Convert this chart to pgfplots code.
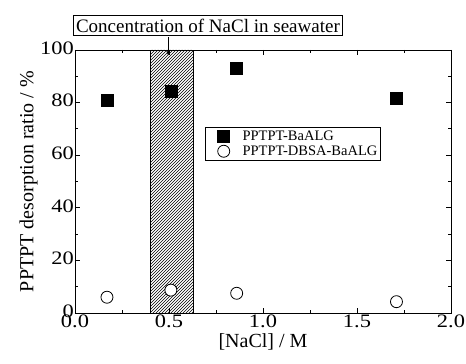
\documentclass[border=0pt]{standalone}
\usepackage{fontspec}
\setmainfont{Liberation Serif}
\usepackage{graphicx}
\usepackage{pgfplots}
\pgfplotsset{compat=1.18}
\usetikzlibrary{patterns,arrows.meta}
\begin{document}
\begin{tikzpicture}
\begin{axis}[
  name=ax,
  scale only axis, width=376pt, height=263pt,
  xmin=0, xmax=2, ymin=0, ymax=100,
  xtick={0,0.5,1,1.5,2}, minor xtick={0.25,0.75,1.25,1.75},
  ytick={0,20,40,60,80,100}, minor ytick={10,30,50,70,90},
  tick align=inside, major tick length=5pt, minor tick length=3pt,
  xticklabel={\scalebox{1.18}[1]{\pgfmathprintnumber[assume math mode=true,fixed,fixed zerofill,precision=1]{\tick}}},
  yticklabel={\scalebox{1.18}[1]{\pgfmathprintnumber[assume math mode=true]{\tick}}},
  ticklabel style={font=\fontsize{19}{19}\selectfont},
  yticklabel style={inner xsep=1pt, inner ysep=0pt, yshift=2pt},
  xticklabel style={inner ysep=2pt},
  xlabel={[NaCl] / M}, ylabel={PPTPT desorption ratio / \%},
  label style={font=\fontsize{20}{20}\selectfont},
  xlabel style={yshift=0pt},
  ylabel style={yshift=-2pt},
  axis line style={line width=0.9pt},
  every tick/.style={line width=0.8pt, black},
  clip=false,
  legend cell align=left,
  legend image code/.code={\node[inner sep=0pt, minimum size=0pt, draw=none] at (1.2cm,0cm) {};
    \node[inner sep=0pt, minimum size=0pt, draw=none] at (0cm,0cm) {};
    \draw[#1] plot coordinates {(0.62cm,0cm)};},
  legend style={at={(0.346,0.708)}, anchor=north west, draw=black, line width=0.6pt,
    font=\fontsize{14.5}{15}\selectfont, inner xsep=1pt, inner ysep=1.5pt, row sep=0pt},
]
\addplot[draw=black, line width=0.7pt, pattern=north east lines, forget plot]
  coordinates {(0.4,0) (0.4,100) (0.63,100) (0.63,0)} \closedcycle;
\addplot[only marks, mark=square*, mark size=6pt, mark options={fill=black, draw=black}]
  coordinates {(0.17,81) (0.51,84.5) (0.86,93) (1.71,81.6)};
\addlegendentry{PPTPT-BaALG}
\addplot[only marks, mark=*, mark size=6pt, mark options={fill=white, draw=black, line width=0.8pt}]
  coordinates {(0.17,6.0) (0.51,8.7) (0.86,7.5) (1.71,4.3)};
\addlegendentry{PPTPT-DBSA-BaALG}
\draw[-{Stealth[length=5pt,width=4pt]}, line width=0.7pt] (axis cs:0.495,104.9) -- (axis cs:0.495,98);
\node[draw=black, line width=0.7pt, fill=white, inner xsep=2.5pt, inner ysep=3pt, font=\fontsize{19}{19}\selectfont]
  at (axis cs:0.707,109.3) {Concentration of NaCl in seawater};
\end{axis}
\pgfresetboundingbox
\path[use as bounding box] (ax.south west) ++(-75pt,-51pt) rectangle ++(466pt,364pt);
\end{tikzpicture}
\end{document}
